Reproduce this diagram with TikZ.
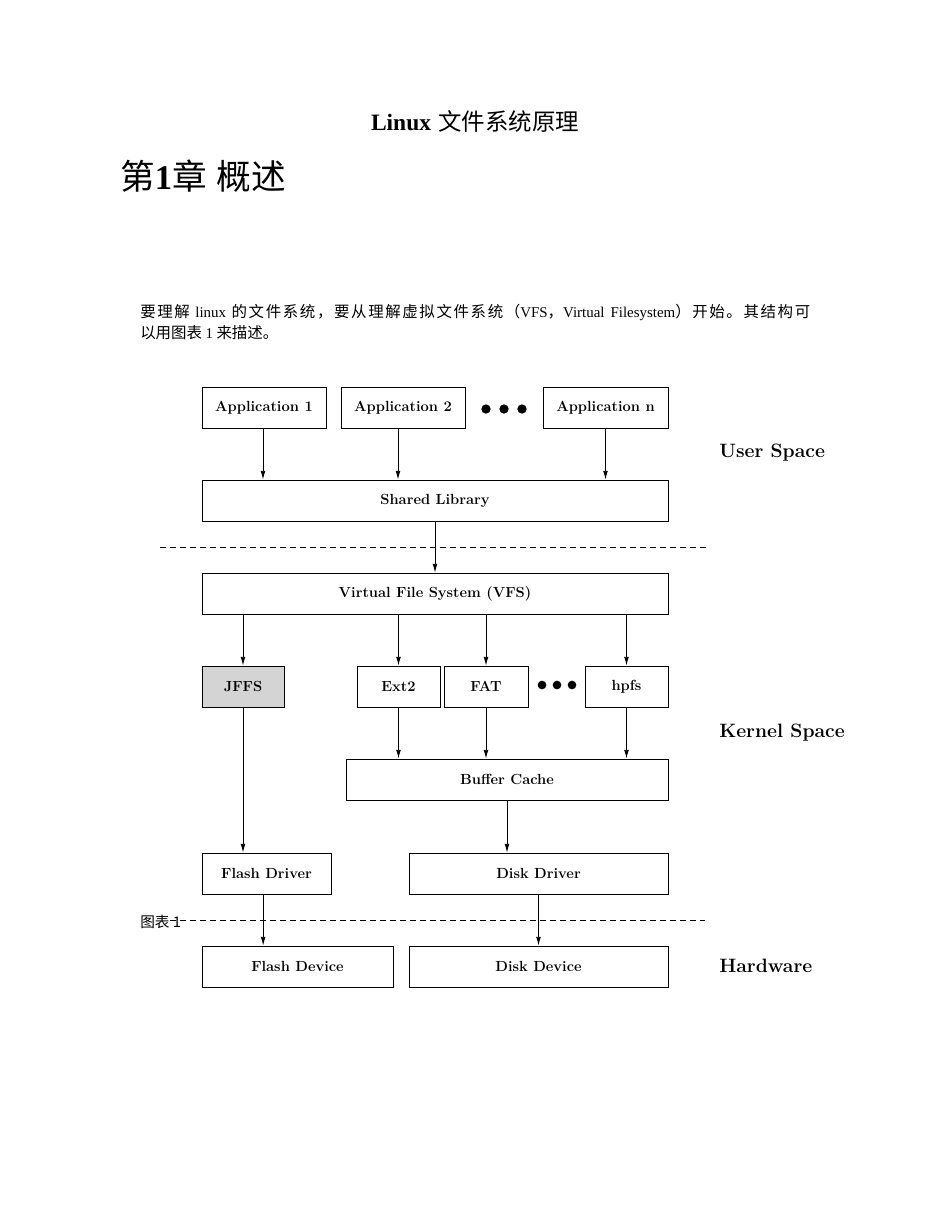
\documentclass[tikz,border=0pt]{standalone}
\usepackage{fontspec}
\newfontfamily\tms{Liberation Serif}
\newfontfamily\cjk{Noto Sans CJK SC}
\usetikzlibrary{arrows.meta}
% inter-character glue for the justified CJK line
\newcount\cjkcnt
\cjkcnt="4E00
\loop \XeTeXcharclass\cjkcnt=1 \advance\cjkcnt 1 \ifnum\cjkcnt<"A000 \repeat
\XeTeXcharclass"FF0C=1 \XeTeXcharclass"FF08=1 \XeTeXcharclass"FF09=1 \XeTeXcharclass"3002=1
\XeTeXinterchartoks 1 1 = {\hskip 0pt plus 1pt}
\newcommand\lat[1]{{\tms\fontsize{11.2}{14}\selectfont #1}}
\begin{document}
\begin{tikzpicture}[x=0.75pt,y=-0.75pt,
  box/.style={draw, line width=0.6pt, minimum height=30.75pt, inner sep=0pt,
    font=\fontsize{11}{13}\selectfont\bfseries},
  arr/.style={-{Latex[length=6.5pt,width=3.5pt]}, line width=0.6pt},
  dline/.style={dash pattern=on 4.5pt off 3pt, line width=0.6pt},
  dot/.style={circle, fill, inner sep=0pt, minimum size=7pt},
  side/.style={anchor=west, inner sep=0pt, font=\fontsize{14.5}{17}\selectfont\bfseries},
  plain/.style={anchor=west, inner sep=0pt}]
\useasboundingbox (0,0) rectangle (950,1230);

% header text
\node (title) at (475,122) {\fontsize{17.6}{20}\selectfont{\tms\bfseries Linux} \cjk 文件系统原理};
\node[plain] (chap) at (120,176) {\fontsize{26}{30}\selectfont\cjk 第{\tms\bfseries 1}章\hspace{7.5pt}概述};
\node[plain] (p1) at (140,312) {\XeTeXinterchartokenstate=1 \fontsize{11.6}{14}\selectfont\cjk\hbox to 502.5pt{要理解 \lat{linux} 的文件系统，要从理解虚拟文件系统（\lat{VFS}，\lat{Virtual Filesystem}）开始。其结构可}};
\node[plain] (p2) at (140,333) {\fontsize{11.6}{14}\selectfont\cjk 以用图表 \lat{1} 来描述。};

% boxes
\node[box, minimum width=93pt] (app1) at (264,407.5) {Application 1};
\node[box, minimum width=93pt] (app2) at (403,407.5) {Application 2};
\node[box, minimum width=93.75pt] (appn) at (605.5,407.5) {Application n};
\node[dot] (da1) at (486,409) {};
\node[dot] (da2) at (504,409) {};
\node[dot] (da3) at (522,409) {};
\node[box, minimum width=349.5pt] (shlib) at (435,500.5) {Shared Library};
\node[box, minimum width=349.5pt] (vfs) at (435,593.5) {Virtual File System (VFS)};
\node[box, minimum width=61.5pt, fill={rgb,255:red,212;green,212;blue,212}] (jffs) at (243,686.5) {JFFS};
\node[box, minimum width=62.25pt] (ext2) at (398.5,686.5) {Ext2};
\node[box, minimum width=63pt] (fat) at (486,686.5) {FAT};
\node[dot, minimum size=6.5pt] (db1) at (542,685) {};
\node[dot, minimum size=6.5pt] (db2) at (557,685) {};
\node[dot, minimum size=6.5pt] (db3) at (572,685) {};
\node[box, minimum width=62.25pt] (hpfs) at (626.5,686.5) {hpfs};
\node[box, minimum width=241.5pt] (bc) at (507,779.5) {Buffer Cache};
\node[box, minimum width=96.75pt] (fdrv) at (266.5,873.5) {Flash Driver};
\node[box, minimum width=194.25pt] (ddrv) at (538.5,873.5) {Disk Driver};
\node[box, minimum width=143.25pt] (fdev) at (297.5,966.5) {Flash Device};
\node[box, minimum width=194.25pt] (ddev) at (538.5,966.5) {Disk Device};

% side labels
\node[side] (us) at (719,453) {User Space};
\node[side] (ks) at (719,733) {Kernel Space};
\node[side] (hw) at (719,966) {Hardware};

% dashed separators
\coordinate (d1a) at (160,547);
\coordinate (d1b) at (710,547);
\draw[dline] (d1a) -- (d1b);
\coordinate (d2a) at (170,920);
\coordinate (d2b) at (705,920);
\draw[dline] (d2a) -- (d2b);
\node[plain, font=\cjk\fontsize{11}{13}\selectfont] (cap) at (140,922) {图表 1};

% arrows
\draw[arr] ([xshift=-0.75pt]app1.south) -- ([xshift=-0.75pt]app1.south |- shlib.north);
\draw[arr] ([xshift=-3.75pt]app2.south) -- ([xshift=-3.75pt]app2.south |- shlib.north);
\draw[arr] (appn.south) -- (appn.south |- shlib.north);
\draw[arr] (shlib.south) -- (vfs.north);
\draw[arr] (vfs.south -| jffs) -- (jffs.north);
\draw[arr] (vfs.south -| ext2) -- (ext2.north);
\draw[arr] (vfs.south -| fat) -- (fat.north);
\draw[arr] (vfs.south -| hpfs) -- (hpfs.north);
\draw[arr] (jffs.south) -- (jffs.south |- fdrv.north);
\draw[arr] (ext2.south) -- (ext2.south |- bc.north);
\draw[arr] (fat.south) -- (fat.south |- bc.north);
\draw[arr] (hpfs.south) -- (hpfs.south |- bc.north);
\draw[arr] (bc.south) -- (bc.south |- ddrv.north);
\draw[arr] ([xshift=-2.5pt]fdrv.south) -- ([xshift=-2.5pt]fdrv.south |- fdev.north);
\draw[arr] (ddrv.south) -- (ddev.north);
\end{tikzpicture}
\end{document}
